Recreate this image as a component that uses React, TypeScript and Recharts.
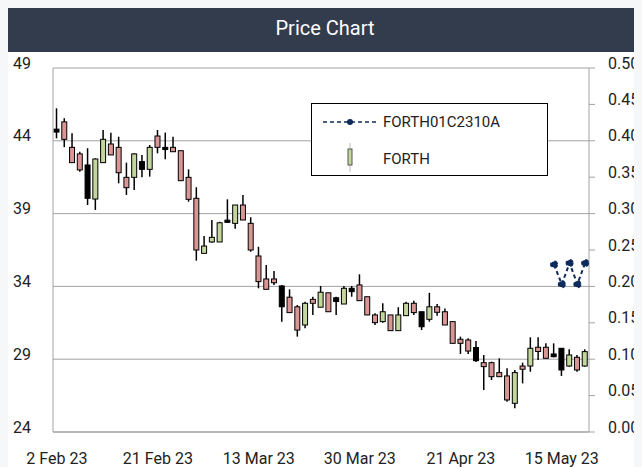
import { ComposedChart, Bar, Line, XAxis, YAxis, CartesianGrid, Legend } from 'recharts';

// FORTH daily candles, Feb - May 2023
const dates = [
  '2 Feb 23', '3 Feb 23', '6 Feb 23', '7 Feb 23', '8 Feb 23', '9 Feb 23', '10 Feb 23',
  '13 Feb 23', '14 Feb 23', '15 Feb 23', '16 Feb 23', '17 Feb 23', '20 Feb 23', '21 Feb 23',
  '22 Feb 23', '23 Feb 23', '24 Feb 23', '28 Feb 23', '1 Mar 23', '2 Mar 23', '3 Mar 23',
  '6 Mar 23', '7 Mar 23', '8 Mar 23', '9 Mar 23', '10 Mar 23', '13 Mar 23',
  '14 Mar 23', '15 Mar 23', '16 Mar 23', '17 Mar 23', '20 Mar 23', '21 Mar 23', '22 Mar 23',
  '23 Mar 23', '24 Mar 23', '27 Mar 23', '28 Mar 23', '29 Mar 23', '30 Mar 23',
  '31 Mar 23', '3 Apr 23', '4 Apr 23', '5 Apr 23', '6 Apr 23', '10 Apr 23', '11 Apr 23',
  '12 Apr 23', '13 Apr 23', '18 Apr 23', '19 Apr 23', '20 Apr 23', '21 Apr 23',
  '24 Apr 23', '25 Apr 23', '26 Apr 23', '27 Apr 23', '28 Apr 23', '3 May 23', '4 May 23',
  '5 May 23', '8 May 23', '9 May 23', '10 May 23', '11 May 23', '15 May 23',
  '16 May 23', '17 May 23', '18 May 23',
];

const opens = [
  44.8, 45.3, 43.55, 43.1, 42.34, 40.0, 42.5, 43.78, 43.55, 41.49, 41.49, 42.57, 42.04, 44.33,
  43.55, 43.55, 43.32, 41.49, 40.05, 36.27, 37.05, 37.05, 38.55, 38.33, 39.59, 38.33, 36.09,
  34.51, 34.51, 34.03, 33.26, 32.6, 31.35, 33.11, 32.57, 33.56, 33.22, 32.79, 33.87, 34.1,
  33.29, 32.04, 31.58, 32.04, 30.96, 31.99, 32.84, 32.26, 31.74, 32.6, 32.26, 31.58, 30.37,
  30.32, 29.8, 28.76, 28.76, 28.08, 27.85, 25.97, 28.53, 28.53, 29.82, 29.82, 29.36, 29.75,
  28.53, 29.13, 28.53,
];

const highs = [
  46.23, 45.55, 44.51, 43.25, 43.49, 42.8, 44.74, 44.56, 44.28, 42.5, 43.14, 43.02, 43.71, 44.74,
  44.56, 44.28, 43.32, 42.04, 40.81, 37.46, 38.56, 38.44, 39.98, 39.59, 40.28, 38.75, 36.72,
  35.47, 35.06, 34.1, 33.8, 32.72, 32.95, 33.29, 34.03, 33.56, 33.29, 34.03, 34.03, 34.83,
  33.29, 32.15, 32.84, 32.04, 32.57, 32.95, 33.02, 32.26, 33.56, 32.79, 32.49, 31.58, 30.55,
  30.44, 30.25, 29.29, 28.83, 29.06, 28.38, 28.26, 28.76, 30.5, 30.5, 30.09, 30.09, 29.75,
  29.68, 29.29, 29.68,
];

const lows = [
  44.17, 43.56, 42.5, 41.88, 39.59, 39.25, 42.5, 43.03, 41.08, 40.28, 40.62, 41.49, 41.54, 43.14,
  42.73, 43.25, 41.26, 39.82, 35.77, 36.27, 37.0, 37.05, 38.37, 37.96, 38.56, 36.38, 33.87,
  33.8, 34.1, 31.58, 32.2, 30.55, 31.12, 32.04, 32.57, 32.26, 32.04, 32.79, 33.29, 33.02,
  32.04, 31.35, 31.51, 30.96, 30.96, 31.97, 32.04, 31.0, 31.58, 31.99, 31.35, 30.09, 29.36,
  29.36, 28.8, 26.88, 27.57, 27.8, 26.08, 25.63, 27.34, 28.14, 28.95, 29.06, 29.13, 27.85,
  28.49, 28.14, 28.49,
];

const closes = [
  44.6, 44.1, 42.5, 42.0, 40.05, 42.75, 44.1, 43.03, 41.81, 40.78, 43.1, 42.04, 43.55, 43.55,
  43.4, 43.25, 41.26, 39.98, 36.5, 36.77, 37.37, 38.37, 38.4, 39.59, 38.56, 36.5, 34.33,
  33.8, 34.25, 32.6, 32.2, 31.0, 32.84, 32.84, 33.6, 32.26, 32.96, 33.87, 33.64, 33.02,
  32.04, 31.51, 32.26, 30.96, 32.04, 32.84, 32.2, 31.23, 32.6, 32.22, 31.35, 30.09, 30.09,
  29.56, 28.9, 28.49, 27.8, 27.8, 26.2, 28.08, 28.31, 29.75, 29.53, 29.06, 29.17, 28.26,
  29.29, 28.26, 29.52,
];

// sessions drawn as unchanged (black) candles
const flatDays = [0, 4, 11, 14, 22, 29, 36, 38, 47, 54, 64, 65];

// FORTH01C2310A option prices, starting at session 64
const optionStart = 64;
const optionPrices = [0.23, 0.203, 0.232, 0.203, 0.232];

const priceTicks = [24, 29, 34, 39, 44, 49];
const optionTicks = [0, 0.05, 0.1, 0.15, 0.2, 0.25, 0.3, 0.35, 0.4, 0.45, 0.5];

const data = dates.map((date, i) => ({
  date,
  open: opens[i],
  high: highs[i],
  low: lows[i],
  close: closes[i],
  range: [lows[i], highs[i]],
  flat: flatDays.includes(i),
  option: i >= optionStart ? optionPrices[i - optionStart] : null,
}));

const FONT = 'Roboto, "Noto Sans", sans-serif';
const GREEN = '#c3d69b';
const RED = '#d99694';
const NAVY = '#0f2a5c';
const GRID = '#a3a3a3';

const Candle = (props: any) => {
  const { x, y, width, height, payload } = props;
  const { open, close, high, low, flat } = payload;
  const ratio = height / (high - low);
  const cx = x + width / 2;
  const yOpen = y + (high - open) * ratio;
  const yClose = y + (high - close) * ratio;
  const top = Math.min(yOpen, yClose);
  const bodyH = Math.max(Math.abs(yClose - yOpen), 1);
  const fill = flat ? '#000' : close >= open ? GREEN : RED;
  return (
    <g>
      <line x1={cx} x2={cx} y1={y} y2={y + height} stroke="#000" strokeWidth={1.5} />
      <rect x={cx - 2.5} y={top} width={5} height={bodyH} fill={fill} stroke="#000" strokeWidth={1} />
    </g>
  );
};

const LeftTick = ({ x, y, payload }: any) => (
  <text x={x} y={y - 5} dy="0.35em" textAnchor="end" fontSize={16} fill="#222" fontFamily={FONT}>
    {payload.value}
  </text>
);

const RightTick = ({ x, y, payload }: any) => (
  <text x={x} y={y - 5} dy="0.35em" textAnchor="start" fontSize={16} fill="#222" fontFamily={FONT}>
    {payload.value.toFixed(2)}
  </text>
);

const DateTick = ({ x, y, payload }: any) => (
  <text x={x} y={y} dy="0.35em" textAnchor="middle" fontSize={16} fill="#222" fontFamily={FONT}>
    {payload.value}
  </text>
);

const LegendBox = () => (
  <div
    style={{
      width: 237,
      height: 73,
      boxSizing: 'border-box',
      border: '1px solid #000',
      background: '#fff',
      position: 'relative',
    }}
  >
    <svg width={237} height={73} style={{ position: 'absolute', left: -1, top: -1 }}>
      <line x1={12} x2={65} y1={19} y2={19} stroke={NAVY} strokeWidth={1.5} strokeDasharray="4 3" />
      <circle cx={39} cy={19} r={3} fill={NAVY} />
      <text x={72} y={19} dy="0.35em" fontSize={15} fill="#222" fontFamily={FONT}>
        FORTH01C2310A
      </text>
      <line x1={39} x2={39} y1={40} y2={69} stroke="#bbb" strokeWidth={1} />
      <rect x={37} y={46} width={4} height={16} fill={GREEN} stroke="#555" strokeWidth={1} />
      <text x={72} y={56} dy="0.35em" fontSize={15} fill="#222" fontFamily={FONT}>
        FORTH
      </text>
    </svg>
  </div>
);

export default function App() {
  return (
    <>
      <style>{`body { margin: 8px; background: #f6f7f9; }`}</style>
      <div style={{ width: 634, overflow: 'hidden', background: '#fff' }}>
        <div
          style={{
            height: 44,
            paddingBottom: 4,
            boxSizing: 'border-box',
            background: '#333c4d',
            color: '#fff',
            fontFamily: FONT,
            fontSize: 20,
            fontWeight: 400,
            display: 'flex',
            alignItems: 'center',
            justifyContent: 'center',
          }}
        >
          Price Chart
        </div>
        <ComposedChart width={634} height={415} data={data} margin={{ top: 16, right: 0, bottom: 0, left: 0 }}>
          <CartesianGrid yAxisId="left" vertical={false} stroke={GRID} />
          <XAxis
            dataKey="date"
            interval={12}
            tickLine={false}
            tickSize={0}
            tickMargin={26}
            height={35}
            axisLine={{ stroke: GRID }}
            tick={<DateTick />}
          />
          <YAxis
            yAxisId="left"
            domain={[24, 49]}
            ticks={priceTicks}
            width={45}
            tickLine={false}
            tickSize={0}
            tickMargin={22}
            axisLine={{ stroke: GRID }}
            tick={<LeftTick />}
          />
          <YAxis
            yAxisId="right"
            orientation="right"
            domain={[0, 0.5]}
            ticks={optionTicks}
            width={53}
            tickSize={6}
            tickMargin={13}
            tickLine={{ stroke: GRID }}
            axisLine={{ stroke: GRID }}
            tick={<RightTick />}
          />
          <Bar yAxisId="left" dataKey="range" barSize={5} shape={<Candle />} isAnimationActive={false} />
          <Line
            yAxisId="right"
            dataKey="option"
            stroke={NAVY}
            strokeWidth={2}
            strokeDasharray="4 3"
            dot={{ r: 3, fill: NAVY, stroke: NAVY }}
            connectNulls={false}
            isAnimationActive={false}
          />
          <Legend
            layout="vertical"
            align="center"
            verticalAlign="middle"
            wrapperStyle={{ left: 303, top: 51, width: 237, height: 73 }}
            content={<LegendBox />}
          />
        </ComposedChart>
      </div>
    </>
  );
}
